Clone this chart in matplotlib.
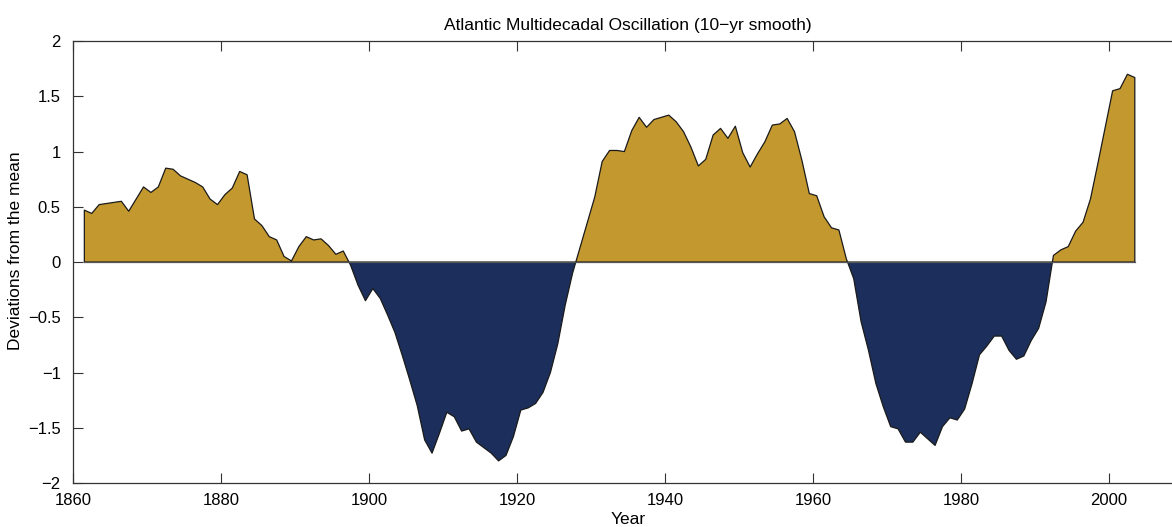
import numpy as np
import matplotlib
matplotlib.use('Agg')
import matplotlib.pyplot as plt
from matplotlib.ticker import FuncFormatter

plt.rcParams['font.family'] = ['Liberation Sans', 'DejaVu Sans']

# AMO index, 10-yr smooth (one per year)
years = np.arange(1861, 2004)
amo = [
    0.47, 0.44, 0.52, 0.53, 0.54, 0.55, 0.46, 0.57, 0.68, 0.63,   # 1861-1870
    0.68, 0.85, 0.84, 0.78, 0.75, 0.72, 0.68, 0.57, 0.52, 0.61,   # 1871-1880
    0.67, 0.82, 0.79, 0.39, 0.33, 0.23, 0.20, 0.05, 0.01, 0.14,   # 1881-1890
    0.23, 0.20, 0.21, 0.15, 0.07, 0.10, -0.03, -0.21, -0.35, -0.24,   # 1891-1900
    -0.33, -0.48, -0.64, -0.85, -1.07, -1.30, -1.61, -1.73, -1.55, -1.36,   # 1901-1910
    -1.40, -1.53, -1.51, -1.63, -1.68, -1.73, -1.80, -1.75, -1.58, -1.34,   # 1911-1920
    -1.32, -1.28, -1.18, -1.00, -0.74, -0.39, -0.10, 0.13, 0.36, 0.59,   # 1921-1930
    0.91, 1.01, 1.01, 1.00, 1.19, 1.31, 1.22, 1.29, 1.31, 1.33,   # 1931-1940
    1.27, 1.18, 1.04, 0.87, 0.93, 1.15, 1.21, 1.12, 1.23, 0.99,   # 1941-1950
    0.86, 0.98, 1.09, 1.24, 1.25, 1.30, 1.18, 0.92, 0.62, 0.60,   # 1951-1960
    0.41, 0.31, 0.29, 0.03, -0.15, -0.54, -0.80, -1.10, -1.31, -1.49,   # 1961-1970
    -1.51, -1.63, -1.63, -1.54, -1.60, -1.66, -1.49, -1.41, -1.43, -1.33,   # 1971-1980
    -1.10, -0.84, -0.76, -0.67, -0.67, -0.80, -0.88, -0.85, -0.71, -0.60,   # 1981-1990
    -0.36, 0.06, 0.11, 0.14, 0.28, 0.36, 0.57, 0.89, 1.22, 1.55,   # 1991-2000
    1.57, 1.70, 1.67,   # 2001-2003
]

x = years + 0.5   # mid-year
y = np.array(amo)

fig = plt.figure(figsize=(11.72, 5.27), dpi=100)
ax = fig.add_axes([0.0625, 0.0835, 0.9468, 0.8385])

ax.fill_between(x, y, 0, where=y >= 0, interpolate=True,
                facecolor='#C3982E', edgecolor='#1a1a1a', linewidth=0.9)
ax.fill_between(x, y, 0, where=y <= 0, interpolate=True,
                facecolor='#1C2F5C', edgecolor='#1a1a1a', linewidth=0.9)
ax.plot([x[0], x[-1]], [0, 0], color='#555555', linewidth=0.9)

ax.set_xlim(1860, 2010)
ax.set_ylim(-2, 2)
ax.set_xticks(np.arange(1860, 2001, 20))
ax.set_yticks(np.arange(-2, 2.01, 0.5))
ax.yaxis.set_major_formatter(FuncFormatter(lambda v, p: ('%g' % v).replace('-', '\u2212')))

ax.tick_params(direction='in', length=7.5, width=0.8, color='#333333',
               top=True, right=True, labelsize=12)
ax.tick_params(axis='x', pad=7)
ax.tick_params(axis='y', pad=9)
for s in ax.spines.values():
    s.set_color('#333333')
    s.set_linewidth(0.9)

ax.set_title('Atlantic Multidecadal Oscillation (10\u2212yr smooth)', fontsize=12.5, pad=8)
ax.set_xlabel('Year', fontsize=12.5, labelpad=3)
ax.set_ylabel('Deviations from the mean', fontsize=12.5)
ax.yaxis.set_label_coords(-0.045, 0.525)

fig.savefig('out.png', dpi=100)
